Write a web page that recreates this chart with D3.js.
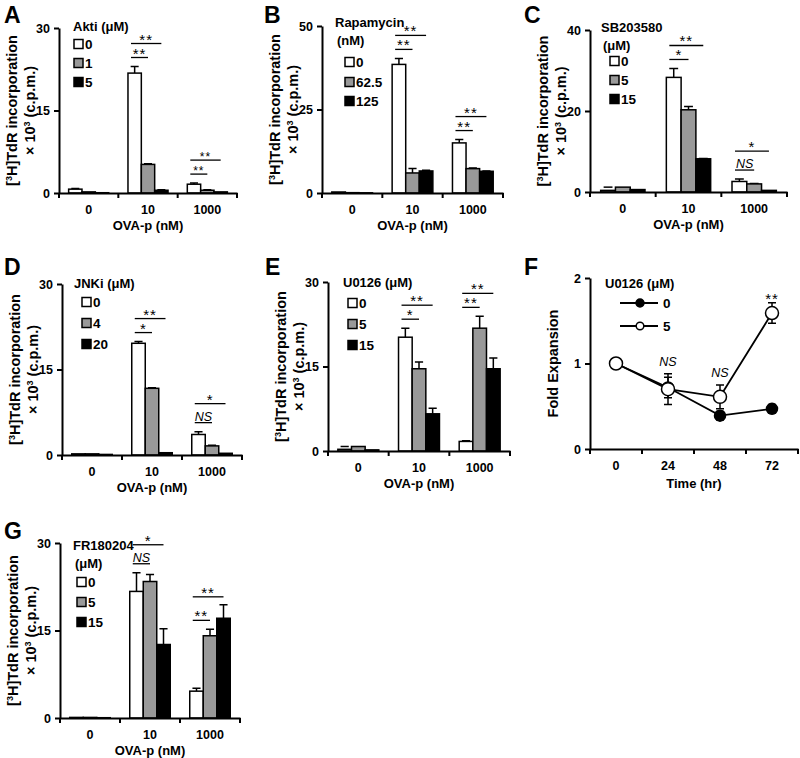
<!DOCTYPE html>
<html>
<head>
<meta charset="utf-8">
<script src="https://cdn.jsdelivr.net/npm/d3@7"></script>
<style>
body { margin: 0; background: #fff; }
text { font-family: "Liberation Sans", Arial, sans-serif; font-weight: bold; fill: #000; }
</style>
</head>
<body>
<svg width="800" height="758"></svg>
<script>
// OVA-p doses shared by all bar panels
var doses = ["0", "10", "1000"];

// A: Akti
var aktiLevels = ["0", "1", "5"];
var aktiMean = [[0.7, 0.2, 0.05], [21.8, 5.2, 0.5], [1.6, 0.5, 0.2]];
var aktiErr  = [[0.1, 0, 0], [1.2, 0.1, 0.1], [0.2, 0.1, 0]];
var aktiSig  = [["", ""], ["**", "**"], ["**", "**"]];

// B: Rapamycin
var rapaLevels = ["0", "62.5", "125"];
var rapaMean = [[0.3, 0.1, 0.05], [38.5, 6.0, 6.6], [15.0, 7.3, 6.5]];
var rapaErr  = [[0, 0, 0], [1.8, 1.3, 0.2], [1.0, 0.2, 0.1]];
var rapaSig  = [["", ""], ["**", "**"], ["**", "**"]];

// C: SB203580
var sbLevels = ["0", "5", "15"];
var sbMean = [[0.4, 1.2, 0.6], [28.3, 20.3, 8.2], [2.6, 2.0, 0.4]];
var sbErr  = [[0, 0.1, 0], [2.2, 0.8, 0.1], [0.6, 0.1, 0]];
var sbSig  = [["", ""], ["*", "**"], ["NS", "*"]];

// D: JNKi
var jnkLevels = ["0", "4", "20"];
var jnkMean = [[0.2, 0.2, 0.1], [19.6, 11.7, 0.4], [3.6, 1.6, 0.3]];
var jnkErr  = [[0, 0, 0], [0.3, 0.1, 0], [0.5, 0.1, 0]];
var jnkSig  = [["", ""], ["*", "**"], ["NS", "*"]];

// E: U0126
var uLevels = ["0", "5", "15"];
var uMean = [[0.3, 0.8, 0.2], [20.2, 14.6, 6.6], [1.7, 21.8, 14.6]];
var uErr  = [[0, 0.4, 0], [1.6, 1.2, 1.0], [0.1, 2.1, 1.9]];
var uSig  = [["", ""], ["*", "**"], ["**", "**"]];

// G: FR180204
var frLevels = ["0", "5", "15"];
var frMean = [[0.1, 0.1, 0.05], [21.7, 23.4, 12.6], [4.6, 14.1, 17.1]];
var frErr  = [[0, 0, 0], [3.2, 1.2, 2.7], [0.5, 1.1, 2.3]];
var frSig  = [["", ""], ["NS", "*"], ["**", "**"]];

// F: fold expansion over time
var timeLabels = ["0", "24", "48", "72"];
var fLevels = ["0", "5"];
var f0Mean = [1.0, 0.72, 0.39, 0.47];
var f0Err  = [0, 0.12, 0.05, 0.05];
var f5Mean = [1.0, 0.70, 0.61, 1.59];
var f5Err  = [0, 0.18, 0.14, 0.12];
var fSig   = ["", "NS", "NS", "**"];

var fills = ["#ffffff", "#999999", "#000000"];
var svg = d3.select("svg");

function styleAxis(g) {
  g.select(".domain").attr("stroke", "#000").attr("stroke-width", 2);
  g.selectAll(".tick line").attr("stroke", "#000").attr("stroke-width", 2);
  g.selectAll("text").style("font-size", "12.5px").style("font-weight", "bold")
    .style("font-family", '"Liberation Sans", Arial, sans-serif');
}

function yTitle(g, cx, cy) {
  var t1 = g.append("text").attr("transform", "translate(" + (cx - 47) + "," + cy + ") rotate(-90)")
    .attr("text-anchor", "middle").attr("dy", "0.35em").style("font-size", "14.5px");
  t1.append("tspan").text("[");
  t1.append("tspan").text("3").style("font-size", "9px").attr("dy", "-5");
  t1.append("tspan").text("H]TdR incorporation").attr("dy", "5");
  var t2 = g.append("text").attr("transform", "translate(" + (cx - 29) + "," + cy + ") rotate(-90)")
    .attr("text-anchor", "middle").attr("dy", "0.35em").style("font-size", "14.5px");
  t2.append("tspan").text("\u00d7 10");
  t2.append("tspan").text("3").style("font-size", "9px").attr("dy", "-5");
  t2.append("tspan").text(" (c.p.m.)").attr("dy", "5");
}

function barPanel(o) {
  var g = svg.append("g");
  var x = d3.scaleBand().domain(doses).range([o.left, o.right]);
  var y = d3.scaleLinear().domain([0, o.yMax]).range([o.bottom, o.top]);
  var bw = x.bandwidth() * 0.225;

  // bars
  doses.forEach(function(dose, i) {
    var x0 = x(dose) + x.bandwidth() / 2 - 1.5 * bw;
    var grp = g.append("g");
    grp.selectAll("line.err").data(o.mean[i]).enter().filter(function(d, j) { return o.err[i][j] > 0; })
      .append("path")
      .attr("d", function(d, j) {
        var cx = x0 + j * bw + bw / 2, yt = y(d + o.err[i][j]);
        return "M" + cx + "," + y(d) + "V" + yt + "M" + (cx - bw * 0.3) + "," + yt + "H" + (cx + bw * 0.3);
      })
      .attr("stroke", "#000").attr("stroke-width", 1.5).attr("fill", "none");
    grp.selectAll("rect").data(o.mean[i]).enter().append("rect")
      .attr("x", function(d, j) { return x0 + j * bw; })
      .attr("y", function(d) { return y(d); })
      .attr("width", bw)
      .attr("height", function(d) { return o.bottom - y(d); })
      .attr("fill", function(d, j) { return fills[j]; })
      .attr("stroke", "#000").attr("stroke-width", 1.5);

    // significance marks
    var s = o.sig[i];
    if (s[0] || s[1]) {
      var tops = o.mean[i].map(function(d, j) { return y(d + o.err[i][j]); });
      var yS = Math.min(tops[0], tops[1]) - 9;
      var yL = Math.min(yS - (s[0] === "NS" ? 19 : 14), tops[2] - 8);
      var xa = x0 + 3;
      [[s[0], yS, x0 + 1.5 * bw], [s[1], yL, x0 + 2.5 * bw]].forEach(function(m) {
        g.append("line").attr("x1", xa).attr("x2", m[2]).attr("y1", m[1]).attr("y2", m[1])
          .attr("stroke", "#000").attr("stroke-width", 1.3);
        var t = g.append("text").attr("x", (xa + m[2]) / 2).attr("text-anchor", "middle").text(m[0]);
        if (m[0] === "NS") {
          t.attr("y", m[1] - 2).style("font-style", "italic").style("font-weight", "normal").style("font-size", "12.5px");
        } else {
          var fs = o.small && i === 2 ? 12 : 15;
          t.attr("y", m[1] + 1).style("font-size", fs + "px").style("font-weight", "normal")
            .style("letter-spacing", "1px");
        }
      });
    }
  });

  // axes
  var ya = g.append("g").attr("transform", "translate(" + o.left + ",0)")
    .call(d3.axisLeft(y).tickValues(o.yTicks).tickSize(5).tickSizeOuter(0).tickPadding(4));
  styleAxis(ya);
  var xa = g.append("g").attr("transform", "translate(0," + o.bottom + ")")
    .call(d3.axisBottom(x).tickSize(0).tickSizeOuter(0).tickPadding(12));
  styleAxis(xa);
  xa.selectAll(".edge").data(d3.range(4)).enter().append("line")
    .attr("x1", function(k) { return o.left + k * x.bandwidth(); })
    .attr("x2", function(k) { return o.left + k * x.bandwidth(); })
    .attr("y1", 0).attr("y2", 5).attr("stroke", "#000").attr("stroke-width", 2);

  g.append("text").attr("x", (o.left + o.right) / 2).attr("y", o.bottom + 37)
    .attr("text-anchor", "middle").style("font-size", "13px").text("OVA-p (nM)");
  yTitle(g, o.left, (o.top + o.bottom) / 2);

  g.append("text").attr("x", o.letterX).attr("y", o.letterY).style("font-size", "23px").text(o.letter);

  // legend
  o.legendTitle.forEach(function(line, k) {
    g.append("text").attr("x", o.lx + (k ? 2 : 0)).attr("y", o.ly + k * 18).attr("dy", "0.35em")
      .style("font-size", "13px").text(line);
  });
  o.levels.forEach(function(lv, j) {
    var yy = o.itemY[j];
    g.append("rect").attr("x", o.sx).attr("y", yy - 4.5).attr("width", 9).attr("height", 9)
      .attr("fill", fills[j]).attr("stroke", "#000").attr("stroke-width", 1.5);
    g.append("text").attr("x", o.sx + 11).attr("y", yy).attr("dy", "0.35em")
      .style("font-size", "13.5px").text(lv);
  });
}

barPanel({letter: "A", letterX: 4, letterY: 23, left: 59, right: 237, top: 28, bottom: 193,
  yMax: 30, yTicks: [0, 15, 30], levels: aktiLevels, mean: aktiMean, err: aktiErr, sig: aktiSig, small: true,
  legendTitle: ["Akti (\u03bcM)"], lx: 73, ly: 26, sx: 74, itemY: [44, 63, 82]});

barPanel({letter: "B", letterX: 264, letterY: 23, left: 322, right: 503, top: 26, bottom: 193,
  yMax: 50, yTicks: [0, 25, 50], levels: rapaLevels, mean: rapaMean, err: rapaErr, sig: rapaSig,
  legendTitle: ["Rapamycin", "(nM)"], lx: 335, ly: 22, sx: 345, itemY: [62, 82, 101]});

barPanel({letter: "C", letterX: 524, letterY: 23, left: 590, right: 787, top: 30, bottom: 192,
  yMax: 40, yTicks: [0, 20, 40], levels: sbLevels, mean: sbMean, err: sbErr, sig: sbSig,
  legendTitle: ["SB203580", "(\u03bcM)"], lx: 601, ly: 27, sx: 610, itemY: [61, 80, 99]});

barPanel({letter: "D", letterX: 4, letterY: 275, left: 62, right: 242, top: 284, bottom: 455,
  yMax: 30, yTicks: [0, 15, 30], levels: jnkLevels, mean: jnkMean, err: jnkErr, sig: jnkSig,
  legendTitle: ["JNKi (\u03bcM)"], lx: 74, ly: 283, sx: 82, itemY: [302, 323, 344]});

barPanel({letter: "E", letterX: 265, letterY: 275, left: 328, right: 510, top: 282, bottom: 451,
  yMax: 30, yTicks: [0, 15, 30], levels: uLevels, mean: uMean, err: uErr, sig: uSig,
  legendTitle: ["U0126 (\u03bcM)"], lx: 343, ly: 282, sx: 348, itemY: [303, 324, 345]});

barPanel({letter: "G", letterX: 4, letterY: 539, left: 60, right: 240, top: 543, bottom: 718,
  yMax: 30, yTicks: [0, 15, 30], levels: frLevels, mean: frMean, err: frErr, sig: frSig,
  legendTitle: ["FR180204", "(\u03bcM)"], lx: 73, ly: 545, sx: 77, itemY: [582, 602, 622]});

// F: line panel
(function() {
  var left = 590, right = 798, top = 278, bottom = 449;
  var g = svg.append("g");
  var x = d3.scaleBand().domain(timeLabels).range([left, right]);
  var y = d3.scaleLinear().domain([0, 2]).range([bottom, top]);
  var cx = function(i) { return x(timeLabels[i]) + x.bandwidth() / 2; };
  var line = d3.line().x(function(d, i) { return cx(i); }).y(function(d) { return y(d); });

  var series = [
    {mean: f0Mean, err: f0Err, fill: "#000", r: 5.5},
    {mean: f5Mean, err: f5Err, fill: "#fff", r: 6.5}
  ];
  series.forEach(function(s) {
    g.append("path").datum(s.mean).attr("d", line).attr("fill", "none")
      .attr("stroke", "#000").attr("stroke-width", 1.8);
  });
  series.forEach(function(s) {
    s.mean.forEach(function(m, i) {
      if (s.err[i] > 0) {
        var a = y(m + s.err[i]), b = y(m - s.err[i]), c = cx(i);
        g.append("path").attr("d", "M" + c + "," + a + "V" + b + "M" + (c - 4) + "," + a + "H" + (c + 4) +
          "M" + (c - 4) + "," + b + "H" + (c + 4))
          .attr("stroke", "#000").attr("stroke-width", 1.5).attr("fill", "none");
      }
    });
  });
  series.forEach(function(s) {
    g.selectAll(null).data(s.mean).enter().append("circle")
      .attr("cx", function(d, i) { return cx(i); })
      .attr("cy", function(d) { return y(d); })
      .attr("r", s.r).attr("fill", s.fill).attr("stroke", "#000").attr("stroke-width", 1.5);
  });

  fSig.forEach(function(t, i) {
    if (!t) return;
    var top5 = Math.max(f0Mean[i] + f0Err[i], f5Mean[i] + f5Err[i]);
    var txt = g.append("text").attr("x", cx(i)).attr("y", y(top5) - 8).attr("text-anchor", "middle")
      .style("font-weight", "normal").text(t);
    if (t === "NS") txt.style("font-style", "italic").style("font-size", "12.5px");
    else txt.style("font-size", "15px").style("letter-spacing", "1px").attr("y", y(top5) + 1);
  });

  var ya = g.append("g").attr("transform", "translate(" + left + ",0)")
    .call(d3.axisLeft(y).tickValues([0, 1, 2]).tickSize(5).tickSizeOuter(0).tickPadding(4).tickFormat(d3.format("d")));
  styleAxis(ya);
  var xa = g.append("g").attr("transform", "translate(0," + bottom + ")")
    .call(d3.axisBottom(x).tickSize(0).tickSizeOuter(0).tickPadding(12));
  styleAxis(xa);
  xa.selectAll(".edge").data(d3.range(5)).enter().append("line")
    .attr("x1", function(k) { return left + k * x.bandwidth(); })
    .attr("x2", function(k) { return left + k * x.bandwidth(); })
    .attr("y1", 0).attr("y2", 5).attr("stroke", "#000").attr("stroke-width", 2);

  g.append("text").attr("x", (left + right) / 2).attr("y", bottom + 39).attr("text-anchor", "middle")
    .style("font-size", "13px").text("Time (hr)");
  g.append("text").attr("transform", "translate(" + 553 + "," + (top + bottom) / 2 + ") rotate(-90)")
    .attr("text-anchor", "middle").attr("dy", "0.35em").style("font-size", "14.5px").text("Fold Expansion");
  g.append("text").attr("x", 524).attr("y", 275).style("font-size", "23px").text("F");

  g.append("text").attr("x", 605).attr("y", 283).attr("dy", "0.35em").style("font-size", "13px").text("U0126 (\u03bcM)");
  series.forEach(function(s, j) {
    var yy = [303, 326][j];
    g.append("line").attr("x1", 620).attr("x2", 658).attr("y1", yy).attr("y2", yy)
      .attr("stroke", "#000").attr("stroke-width", 1.8);
    g.append("circle").attr("cx", 640).attr("cy", yy).attr("r", j ? 3.8 : 4)
      .attr("fill", s.fill).attr("stroke", "#000").attr("stroke-width", 1.5);
    g.append("text").attr("x", 663).attr("y", yy).attr("dy", "0.35em").style("font-size", "13.5px").text(fLevels[j]);
  });
})();
</script>
</body>
</html>
